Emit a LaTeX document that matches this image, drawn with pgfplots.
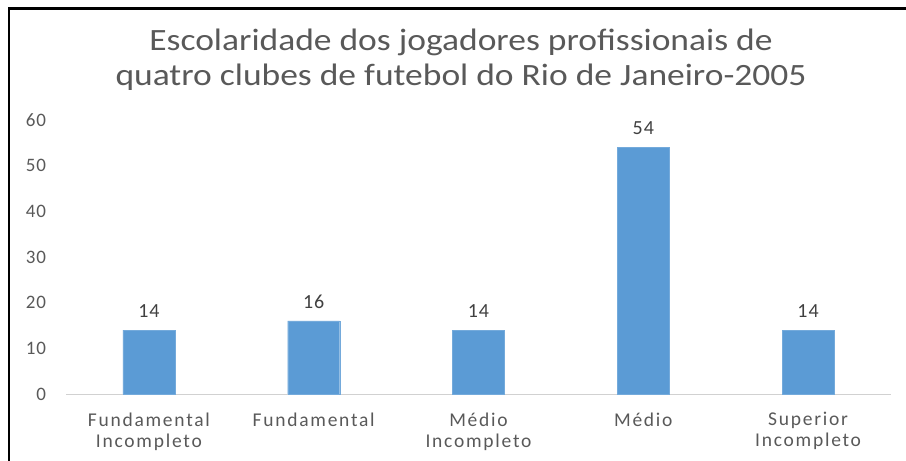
\documentclass[border=0pt]{standalone}
\usepackage{pgfplots}
\pgfplotsset{compat=1.18}
\usepackage{fontspec}
\setmainfont{Carlito}
\definecolor{barblue}{HTML}{5B9BD5}
\definecolor{txtgray}{HTML}{595959}
\definecolor{lblgray}{HTML}{404040}
\begin{document}
\begin{tikzpicture}[x=1pt,y=1pt]
\useasboundingbox (-66.5,-67) rectangle (839.5,394);
\draw[line width=2.4pt,black] (-57.5,-67) -- (-57.5,385.5) -- (839.5,385.5);
\begin{axis}[
  at={(0,0)}, anchor=origin,
  scale only axis, width=824pt, height=274pt,
  xmin=0, xmax=5, ymin=0, ymax=60,
  axis x line*=bottom, axis y line*=left,
  x axis line style={draw=black!18, line width=0.8pt},
  y axis line style={draw=none},
  ytick={0,10,...,60},
  yticklabel style={font=\fontsize{19}{21}\selectfont\addfontfeatures{LetterSpace=5}, text=txtgray, anchor=east, xshift=-17pt},
  /pgf/number format/assume math mode=true,
  xtick={0.5,1.5,2.5,3.5,4.5},
  xticklabels={{Fundamental\\Incompleto},{Fundamental},{Médio\\Incompleto},{Médio},{Superior\\Incompleto}},
  xticklabel style={align=center, font=\fontsize{19.5}{21}\selectfont\addfontfeatures{LetterSpace=9}, text=txtgray, yshift=-15pt},
  major tick length=0pt,
  ybar, bar width=52pt,
  nodes near coords,
  nodes near coords style={font=\fontsize{20}{21}\selectfont\addfontfeatures{LetterSpace=5}, text=lblgray, yshift=9pt},
  clip=false,
]
\addplot[fill=barblue, draw=barblue!85!white] coordinates {(0.5,14) (1.5,16) (2.5,14) (3.5,54) (4.5,14)};
\end{axis}
\node[align=center, font=\fontsize{31}{35}\selectfont, text=txtgray, xscale=1.145, transform shape] at (394.5,334.5) {Escolaridade dos jogadores profissionais de\\quatro clubes de futebol do Rio de Janeiro-2005};
\end{tikzpicture}
\end{document}
